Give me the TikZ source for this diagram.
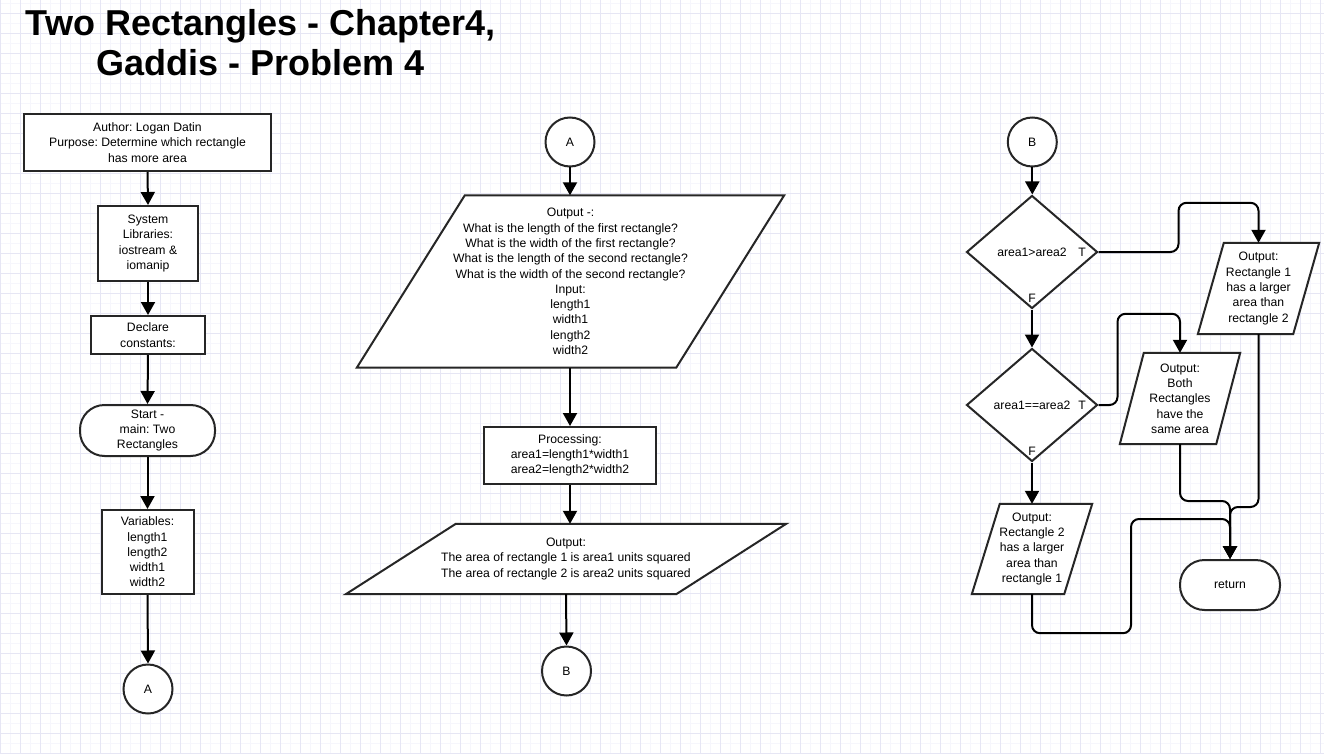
\documentclass[tikz,border=0pt]{standalone}
\usepackage{fontspec}
\setmainfont{Liberation Sans}
\usetikzlibrary{arrows.meta,shapes.geometric,calc}
\pgfdeclarelayer{bg}
\pgfdeclarelayer{mid}
\pgfsetlayers{bg,mid,main}
\definecolor{gridmaj}{RGB}{230,230,244}
\definecolor{gridmin}{RGB}{246,246,252}
\definecolor{shapeln}{RGB}{38,38,38}
\newcommand\drawpara[2]{%
  \begin{pgfonlayer}{mid}
  \draw[draw=shapeln, line width=2pt, fill=white, line join=miter]
    ($(#1.north west)+(#2,0)$) -- (#1.north east) -- ($(#1.south east)+(-#2,0)$) -- (#1.south west) -- cycle;
  \end{pgfonlayer}}
\begin{document}
\frenchspacing
\begin{tikzpicture}[x=1pt,y=-1pt,
  every node/.style={font=\fontsize{12.2}{15.3}\selectfont\frenchspacing, align=center, inner sep=0pt, text=black},
  box/.style={rectangle, draw=shapeln, line width=2pt, fill=white},
  term/.style={box, rounded corners=24.5pt},
  conn/.style={line width=2pt, draw=black, -{Triangle[length=13pt,width=14pt]}, rounded corners=8pt},
  circ/.style={circle, draw=shapeln, line width=2pt, fill=white, minimum size=49pt},
  dia/.style={diamond, draw=shapeln, line width=2pt, fill=white, minimum width=131pt, minimum height=113pt},
  paratext/.style={rectangle}
]
\useasboundingbox (0,0) rectangle (1324,754);
\begin{pgfonlayer}{bg}
  \fill[white] (0,0) rectangle (1324,754);
  \foreach \i in {0,...,66} {\draw[gridmin, line width=0.6pt] (10+20*\i,0) -- (10+20*\i,754);}
  \foreach \j in {0,...,37} {\draw[gridmin, line width=0.6pt] (0,3+20*\j) -- (1324,3+20*\j);}
  \foreach \i in {0,...,66} {\draw[gridmaj, line width=0.7pt] (20*\i,0) -- (20*\i,754);}
  \foreach \j in {0,...,37} {\draw[gridmaj, line width=0.7pt] (0,13+20*\j) -- (1324,13+20*\j);}
\end{pgfonlayer}

% Title
\node[font=\fontsize{36}{41}\selectfont\bfseries, anchor=base] (title1) at (260.5,35.5) {Two Rectangles - Chapter4,};
\node[font=\fontsize{36}{41}\selectfont\bfseries, anchor=base] (title2) at (260.5,76) {Gaddis - Problem 4};

% Column 1
\node[box, minimum width=247pt, minimum height=57pt] (author) at (147.5,142.5) {Author: Logan Datin\\Purpose: Determine which rectangle\\has more area};
\node[box, minimum width=100pt, minimum height=75pt] (syslib) at (148,243.5) {System\\Libraries:\\iostream \&\\iomanip};
\node[box, minimum width=114pt, minimum height=38pt] (decl) at (148,335) {Declare\\constants:};
\node[term, minimum width=135pt, minimum height=51pt] (start) at (147.5,430.5) {Start -\\main: Two\\Rectangles};
\node[box, minimum width=92pt, minimum height=84pt] (vars) at (147.5,552) {Variables:\\length1\\length2\\width1\\width2};
\node[circ] (A1) at (148,689) {A};

\draw[conn] (author.south) -- (syslib.north);
\draw[conn] (syslib.south) -- (decl.north);
\draw[conn] (decl.south) -- (start.north);
\draw[conn] (start.south) -- (vars.north);
\draw[conn] (vars.south) -- (A1.north);

% Column 2
\node[circ] (A2) at (570,142) {A};
\node[paratext, minimum width=427pt, minimum height=172pt] (P1) at (570.5,281.5) {Output -:\\What is the length of the first rectangle?\\What is the width of the first rectangle?\\What is the length of the second rectangle?\\What is the width of the second rectangle?\\Input:\\length1\\width1\\length2\\width2};
\drawpara{P1}{108}
\node[box, minimum width=172pt, minimum height=57pt] (proc) at (570,455.5) {Processing:\\area1=length1*width1\\area2=length2*width2};
\node[paratext, minimum width=440pt, minimum height=70pt] (P2) at (566,559) {Output:\\The area of rectangle 1 is area1 units squared\\The area of rectangle 2 is area2 units squared};
\drawpara{P2}{110}
\node[circ] (B1) at (566.5,671) {B};

\draw[conn] (A2.south) -- (A2.south |- P1.north);
\draw[conn] (P1.south -| proc.north) -- (proc.north);
\draw[conn] (proc.south) -- (proc.south |- P2.north);
\draw[conn] (P2.south) -- (B1.north);

% Column 3
\node[circ] (B2) at (1032.3,142) {B};
\node[dia] (D1) at (1032,252) {area1>area2};
\node (T1) at (1082,252) {T};
\node (F1) at (1032,298) {F};
\node[dia] (D2) at (1032,405) {area1==area2};
\node (T2) at (1082,405) {T};
\node (F2) at (1032,451) {F};
\node[paratext, minimum width=121pt, minimum height=91pt] (R1) at (1258.5,288.5) {Output:\\Rectangle 1\\has a larger\\area than\\rectangle 2};
\drawpara{R1}{26}
\node[paratext, minimum width=120pt, minimum height=91pt] (Both) at (1180,398.5) {Output:\\Both\\Rectangles\\have the\\same area};
\drawpara{Both}{24}
\node[paratext, minimum width=120pt, minimum height=90pt] (R2) at (1032,549) {Output:\\Rectangle 2\\has a larger\\area than\\rectangle 1};
\drawpara{R2}{28}
\node[term, minimum width=100pt, minimum height=50pt] (ret) at (1230,585) {return};

\draw[conn] (B2.south) -- (B2.south |- D1.north);
\draw[conn] (D1.east) -- ++(80,0) |- ($(R1.north)+(0,-40)$) -- (R1.north);
\draw[conn] (D1.south) -- (D2.north);
\draw[conn] (D2.east) -- ++(19,0) |- ($(Both.north)+(0,-39)$) -- (Both.north);
\draw[conn] (D2.south) -- (D2.south |- R2.north);
\draw[conn] (Both.south) |- ($(ret.north)+(0,-58)$) -- (ret.north);
\draw[conn] (R1.south) |- ($(ret.north)+(0,-52)$) -- (ret.north);
\draw[conn] (R2.south) -- ++(0,39) -| ($(ret.north)+(-99,-40)$) -- ($(ret.north)+(0,-40)$) -- (ret.north);
\end{tikzpicture}
\end{document}
